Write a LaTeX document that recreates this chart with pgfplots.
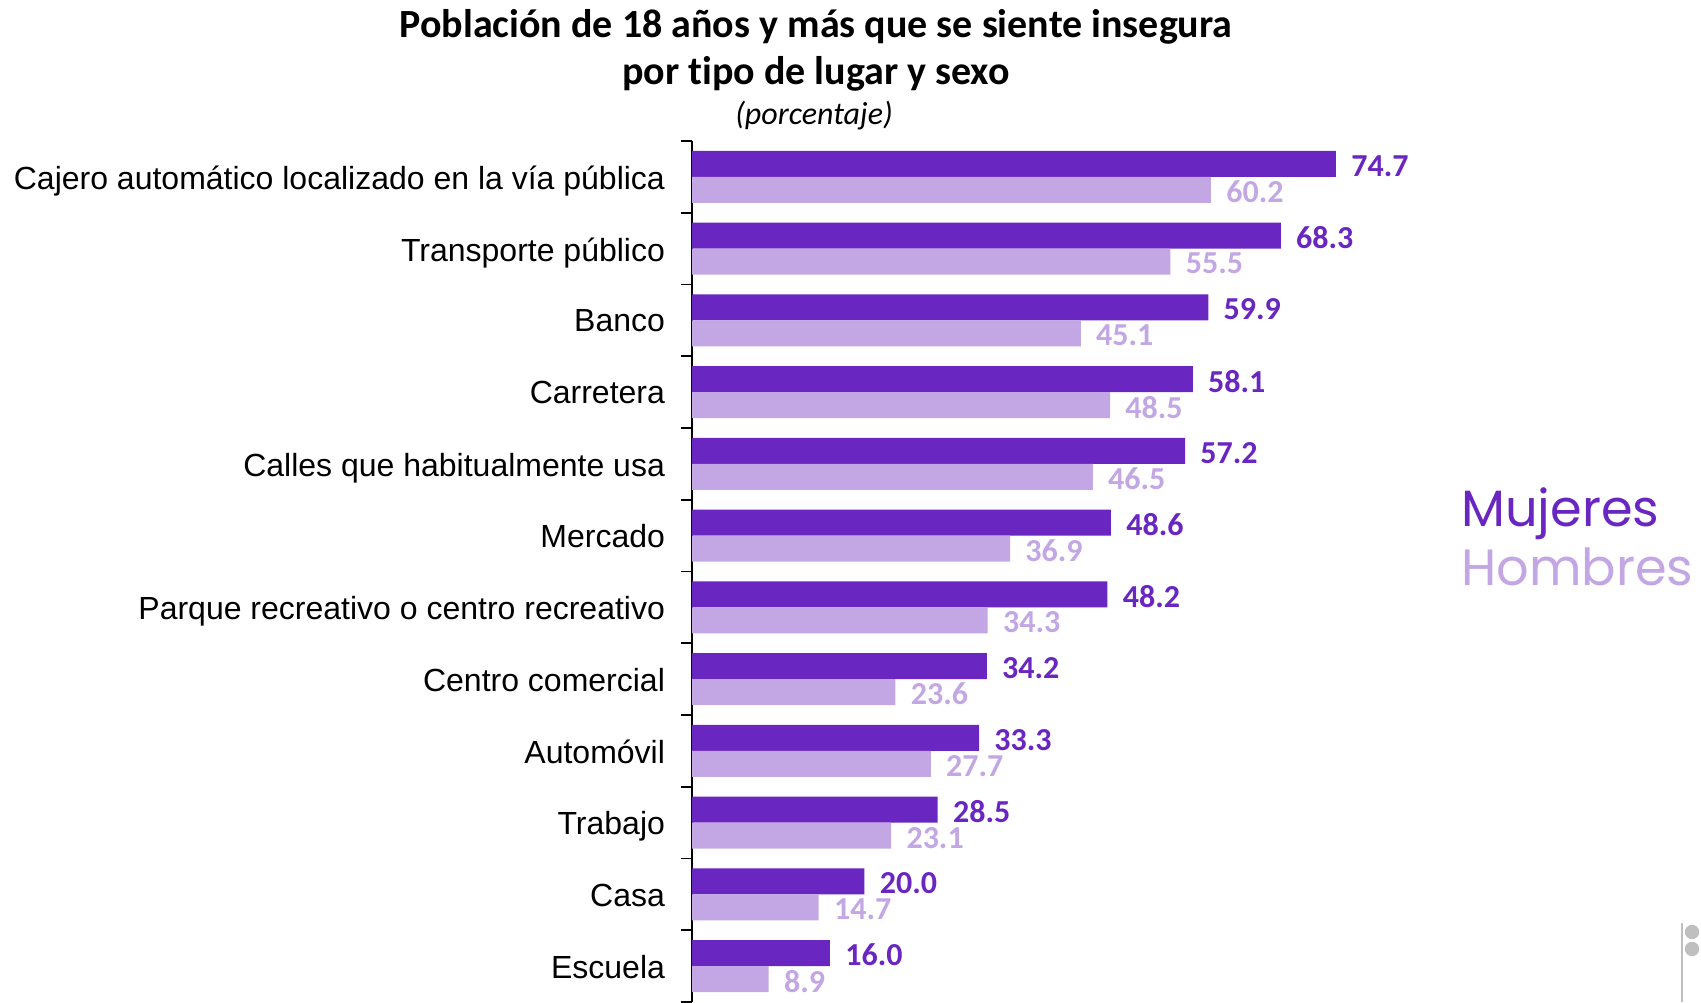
\documentclass[border=0pt]{standalone}
\usepackage{pgfplots}
\pgfplotsset{compat=1.18}
\usepackage{fontspec}
\setmainfont{Liberation Sans}
\newfontfamily\carlito[Ligatures=NoCommon]{Carlito}
\newfontfamily\legfont{Poppins}
\definecolor{muj}{RGB}{106,38,192}
\definecolor{hom}{RGB}{195,167,228}
\begin{document}
\begin{tikzpicture}
\useasboundingbox (0,0) rectangle (850.5pt,501pt);
\begin{axis}[
  at={(346pt,0pt)}, anchor=south west,
  scale only axis, width=431pt, height=430.5pt,
  xmin=0, xmax=100,
  ymin=-0.5, ymax=11.5, y dir=reverse,
  axis x line=none, axis y line=left,
  y axis line style={-, black, line width=1pt},
  ytick={0,...,11},
  yticklabels={Cajero automático localizado en la vía pública, Transporte público, Banco, Carretera, Calles que habitualmente usa, Mercado, Parque recreativo o centro recreativo, Centro comercial, Automóvil, Trabajo, Casa, Escuela},
  major tick length=0pt,
  minor ytick={-0.5,0.5,...,11.5},
  minor tick length=5.5pt, tick align=outside,
  minor tick style={black, line width=0.8pt},
  yticklabel style={font=\fontsize{16}{16}\selectfont, xshift=-10pt, text depth=0pt, yshift=-0.3pt},
  xbar, bar width=13pt,
  nodes near coords,
  point meta=x,
  every node near coord/.append style={font=\carlito\bfseries\fontsize{16}{16}\selectfont, anchor=west, inner sep=0pt, xshift=7.5pt, yshift=-1pt,
    /pgf/number format/fixed, /pgf/number format/precision=1, /pgf/number format/fixed zerofill, /pgf/number format/assume math mode=true},
  legend image code/.code={},
  legend style={at={(axis cs:89.2,5.09)}, anchor=west, draw=none, fill=none, inner sep=0pt, row sep=6pt,
    font=\legfont\fontsize{25.5}{25.5}\selectfont,
    nodes={inner sep=0pt, text height=18.5pt, text depth=5pt}},
  legend cell align=left,
]
\addplot[fill=muj, draw=none, bar shift=6.5pt, every node near coord/.append style={text=muj}] coordinates {
(74.7,0) (68.3,1) (59.9,2) (58.1,3) (57.2,4) (48.6,5) (48.2,6) (34.2,7) (33.3,8) (28.5,9) (20.0,10) (16.0,11)};
\addlegendentry{\textcolor{muj}{Mujeres}}
\addplot[fill=hom, draw=none, bar shift=-6.5pt, every node near coord/.append style={text=hom}] coordinates {
(60.2,0) (55.5,1) (45.1,2) (48.5,3) (46.5,4) (36.9,5) (34.3,6) (23.6,7) (27.7,8) (23.1,9) (14.7,10) (8.9,11)};
\addlegendentry{\textcolor{hom}{Hombres}}
\end{axis}
\node[font=\carlito\bfseries\fontsize{20}{24}\selectfont] at (408pt,487.5pt) {Población de 18 años y más que se siente insegura};
\node[font=\carlito\bfseries\fontsize{20}{24}\selectfont] at (408pt,464pt) {por tipo de lugar y sexo};
\node[font=\carlito\itshape\fontsize{16}{19}\selectfont] at (407pt,443pt) {(porcentaje)};
\draw[black!25, line width=1.2pt] (841pt,0) -- (841pt,39.5pt);
\fill[black!25] (846pt,35pt) circle (3.6pt);
\fill[black!25] (846pt,26.5pt) circle (3.6pt);
\end{tikzpicture}
\end{document}
